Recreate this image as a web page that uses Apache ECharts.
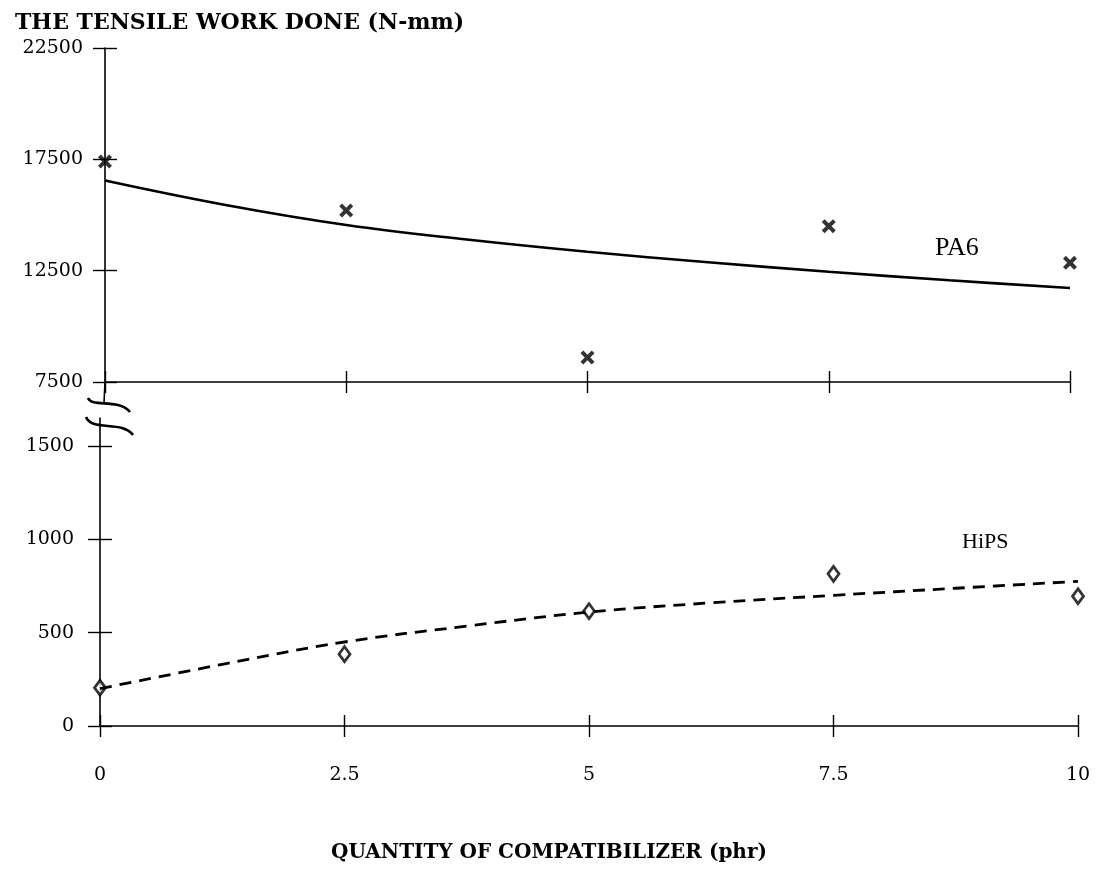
<!DOCTYPE html>
<html>
<head>
<meta charset="utf-8">
<script src="https://cdn.jsdelivr.net/npm/echarts@6/dist/echarts.min.js"></script>
<style>
  html, body { margin: 0; padding: 0; background: #fff; }
  #chart { width: 1098px; height: 891px; }
</style>
</head>
<body>
<div id="chart"></div>
<script>
// Compatibilizer loading (phr)
const xTicks = [0, 2.5, 5, 7.5, 10];
const pa6Ticks = [7500, 12500, 17500, 22500];
const hipsTicks = [0, 500, 1000, 1500];

// Measured tensile work (N-mm)
const pa6Measured = [17400, 15200, 8600, 14500, 12850];
const hipsMeasured = [205, 385, 615, 815, 695];

// Fitted trend curves
const trendX = [0, 1.25, 2.5, 3.75, 5, 6.25, 7.5, 8.75, 10];
const pa6Trend = [16550, 15450, 14550, 13900, 13350, 12880, 12450, 12070, 11720];
const hipsTrend = [200, 330, 450, 535, 610, 660, 700, 738, 775];

const serif = '"Liberation Serif", "DejaVu Serif", serif';
const wideSerif = '"DejaVu Serif", "Liberation Serif", serif';
const ink = '#000';

function pairs(xs, ys) { return xs.map((x, i) => [x, ys[i]]); }
const plain = v => String(v);

const crossMark = 'path://M0,2L2,0L5,3L8,0L10,2L7,5L10,8L8,10L5,7L2,10L0,8L3,5Z';

function xAxes(grid, showLabels) {
  const base = {
    type: 'value', gridIndex: grid, min: 0, max: 10, position: 'bottom',
    splitLine: { show: false }
  };
  return [
    Object.assign({}, base, {
      axisLine: { show: true, lineStyle: { color: ink, width: 1.6 } },
      axisTick: { show: true, length: 11, customValues: xTicks, lineStyle: { color: ink, width: 1.4 } },
      axisLabel: { show: showLabels, customValues: xTicks, margin: 40, formatter: plain,
        fontFamily: wideSerif, fontSize: 19, color: ink }
    }),
    Object.assign({}, base, {
      axisLine: { show: false },
      axisTick: { show: true, inside: true, length: 11, customValues: xTicks, lineStyle: { color: ink, width: 1.4 } },
      axisLabel: { show: false }
    })
  ];
}

function yAxes(grid, min, max, ticks, margin) {
  const base = { type: 'value', gridIndex: grid, min: min, max: max, position: 'left',
    splitLine: { show: false } };
  return [
    Object.assign({}, base, {
      axisLine: { show: true, lineStyle: { color: ink, width: 1.6 } },
      axisTick: { show: true, length: 12, customValues: ticks, lineStyle: { color: ink, width: 1.4 } },
      axisLabel: { show: true, customValues: ticks, margin: margin, formatter: plain,
        fontFamily: wideSerif, fontSize: 19, color: ink }
    }),
    Object.assign({}, base, {
      axisLine: { show: false },
      axisTick: { show: true, inside: true, length: 12, customValues: ticks, lineStyle: { color: ink, width: 1.4 } },
      axisLabel: { show: false }
    })
  ];
}

const chart = echarts.init(document.getElementById('chart'), null, { renderer: 'canvas' });

const option = {
  backgroundColor: '#fff',
  animation: false,
  title: [
    { text: 'THE TENSILE WORK DONE (N-mm)', left: 10, top: 7,
      textStyle: { fontFamily: wideSerif, fontSize: 22, fontWeight: 'bold', color: ink } },
    { text: 'QUANTITY OF COMPATIBILIZER (phr)', left: 'center', top: 838,
      textStyle: { fontFamily: wideSerif, fontSize: 20, fontWeight: 'bold', color: ink } }
  ],
  grid: [
    { left: 105, top: 48, width: 965, height: 334 },
    { left: 100, top: 418, width: 978, height: 308 }
  ],
  xAxis: [].concat(xAxes(0, false), xAxes(1, true)),
  yAxis: [].concat(
    yAxes(0, 7500, 22500, pa6Ticks, 22),
    yAxes(1, 0, 1650, hipsTicks, 26)
  ),
  series: [
    {
      name: 'PA6 trend', type: 'line', xAxisIndex: 0, yAxisIndex: 0,
      data: pairs(trendX, pa6Trend), smooth: 0.4, showSymbol: false,
      lineStyle: { color: ink, width: 2.6 }
    },
    {
      name: 'PA6', type: 'scatter', xAxisIndex: 0, yAxisIndex: 0,
      data: pairs(xTicks, pa6Measured), symbol: crossMark, symbolSize: 14,
      itemStyle: { color: ink }
    },
    {
      name: 'HiPS trend', type: 'line', xAxisIndex: 2, yAxisIndex: 2,
      data: pairs(trendX, hipsTrend), smooth: 0.4, showSymbol: false,
      lineStyle: { color: ink, width: 2.8, type: [12, 8] }
    },
    {
      name: 'HiPS', type: 'scatter', xAxisIndex: 2, yAxisIndex: 2,
      data: pairs(xTicks, hipsMeasured), symbol: 'diamond', symbolSize: [11, 15],
      itemStyle: { color: '#fff', borderColor: ink, borderWidth: 2.8 }
    }
  ],
  graphic: [
    // series names beside their curves
    { type: 'text', left: 935, top: 235,
      style: { text: 'PA6', font: '26px ' + serif, fill: ink } },
    { type: 'text', left: 962, top: 531,
      style: { text: 'HiPS', font: '22px ' + serif, fill: ink } },
    // axis break: short stub below the upper panel and two wavy marks
    { type: 'line', shape: { x1: 105, y1: 382, x2: 104, y2: 403 },
      style: { stroke: ink, lineWidth: 1.6 } },
    { type: 'bezierCurve',
      shape: { x1: 88, y1: 398, cpx1: 92, cpy1: 408, cpx2: 118, cpy2: 398, x2: 130, y2: 412 },
      style: { stroke: ink, lineWidth: 2.6, fill: null } },
    { type: 'bezierCurve',
      shape: { x1: 86, y1: 417, cpx1: 92, cpy1: 432, cpx2: 122, cpy2: 420, x2: 133, y2: 435 },
      style: { stroke: ink, lineWidth: 2.6, fill: null } }
  ]
};

chart.setOption(option);
</script>
</body>
</html>
